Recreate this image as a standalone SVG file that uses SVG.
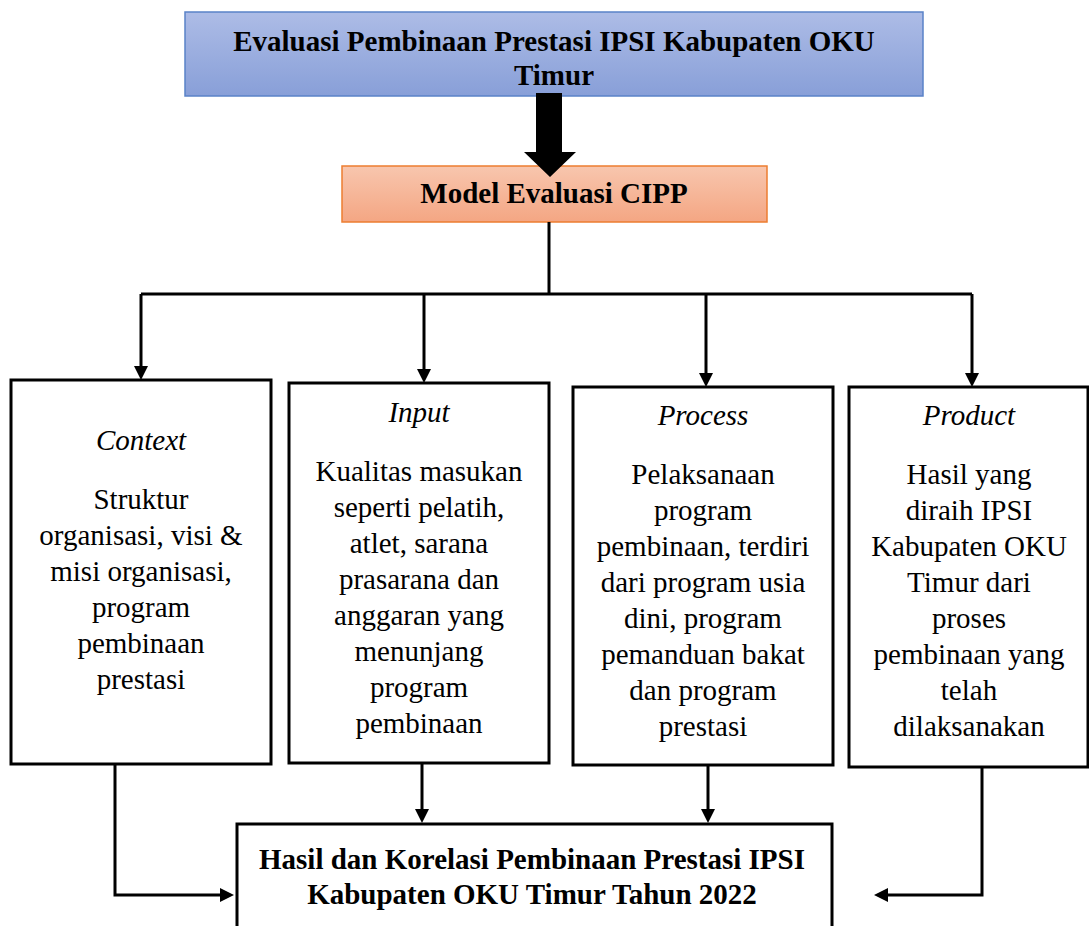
<svg xmlns="http://www.w3.org/2000/svg" width="1089" height="926" viewBox="0 0 1089 926">
<defs>
<linearGradient id="gBlue" x1="0" y1="0" x2="0" y2="1">
<stop offset="0" stop-color="#adbce6"/>
<stop offset="1" stop-color="#889fd8"/>
</linearGradient>
<linearGradient id="gOrange" x1="0" y1="0" x2="0" y2="1">
<stop offset="0" stop-color="#f8c6ae"/>
<stop offset="1" stop-color="#f4a683"/>
</linearGradient>
<marker id="arr" markerUnits="userSpaceOnUse" markerWidth="15" markerHeight="14" refX="4" refY="7" orient="auto">
<path d="M0,0 L14,7 L0,14 z" fill="#000"/>
</marker>
<style>
.box{fill:#fff;stroke:#000;stroke-width:3}
.t{font-family:"Liberation Serif","Times New Roman",serif;font-size:29px;fill:#000;text-anchor:middle}
.b{font-weight:bold}
.i{font-style:italic}
.c{fill:none;stroke:#000;stroke-width:3}
</style>
</defs>
<rect width="1089" height="926" fill="#fff"/>
<g id="title">
<rect x="185" y="12" width="738" height="84" fill="url(#gBlue)" stroke="#5a82c8" stroke-width="1.5"/>
<text class="t b" x="554" y="51">Evaluasi Pembinaan Prestasi IPSI Kabupaten OKU</text>
<text class="t b" x="554" y="85">Timur</text>
</g>
<g id="model">
<rect x="342" y="166" width="425" height="56" fill="url(#gOrange)" stroke="#ed7d31" stroke-width="1.5"/>
<text class="t b" x="554" y="203">Model Evaluasi CIPP</text>
</g>
<g id="context">
<rect class="box" x="11" y="380" width="260" height="384"/>
<text class="t" x="141"><tspan class="i" x="141" y="450">Context</tspan><tspan x="141" y="509">Struktur</tspan><tspan x="141" y="545">organisasi, visi &amp;</tspan><tspan x="141" y="581">misi organisasi,</tspan><tspan x="141" y="617">program</tspan><tspan x="141" y="653">pembinaan</tspan><tspan x="141" y="689">prestasi</tspan></text>
</g>
<g id="input">
<rect class="box" x="289" y="383" width="260" height="380"/>
<text class="t" x="419"><tspan class="i" x="419" y="422">Input</tspan><tspan x="419" y="481">Kualitas masukan</tspan><tspan x="419" y="517">seperti pelatih,</tspan><tspan x="419" y="553">atlet, sarana</tspan><tspan x="419" y="589">prasarana dan</tspan><tspan x="419" y="625">anggaran yang</tspan><tspan x="419" y="661">menunjang</tspan><tspan x="419" y="697">program</tspan><tspan x="419" y="733">pembinaan</tspan></text>
</g>
<g id="process">
<rect class="box" x="573" y="387" width="260" height="378"/>
<text class="t" x="703"><tspan class="i" x="703" y="425">Process</tspan><tspan x="703" y="484">Pelaksanaan</tspan><tspan x="703" y="520">program</tspan><tspan x="703" y="556">pembinaan, terdiri</tspan><tspan x="703" y="592">dari program usia</tspan><tspan x="703" y="628">dini, program</tspan><tspan x="703" y="664">pemanduan bakat</tspan><tspan x="703" y="700">dan program</tspan><tspan x="703" y="736">prestasi</tspan></text>
</g>
<g id="product">
<rect class="box" x="849" y="387" width="239" height="380"/>
<text class="t" x="969"><tspan class="i" x="969" y="425">Product</tspan><tspan x="969" y="484">Hasil yang</tspan><tspan x="969" y="520">diraih IPSI</tspan><tspan x="969" y="556">Kabupaten OKU</tspan><tspan x="969" y="592">Timur dari</tspan><tspan x="969" y="628">proses</tspan><tspan x="969" y="664">pembinaan yang</tspan><tspan x="969" y="700">telah</tspan><tspan x="969" y="736">dilaksanakan</tspan></text>
</g>
<g id="result">
<rect class="box" x="237" y="824" width="595" height="120"/>
<text class="t b" x="532"><tspan x="532" y="869">Hasil dan Korelasi Pembinaan Prestasi IPSI</tspan><tspan x="532" y="904">Kabupaten OKU Timur Tahun 2022</tspan></text>
</g>
<g id="connectors">
<polygon points="536,93 562,93 562,152 576,152 550,177 524,152 536,152" fill="#000"/>
<path class="c" d="M549,222 V294"/>
<path class="c" d="M141,294 H972"/>
<path class="c" d="M141,294 V370" marker-end="url(#arr)"/>
<path class="c" d="M424,294 V373" marker-end="url(#arr)"/>
<path class="c" d="M706,294 V377" marker-end="url(#arr)"/>
<path class="c" d="M972,294 V377" marker-end="url(#arr)"/>
<path class="c" d="M422,763 V813" marker-end="url(#arr)"/>
<path class="c" d="M708,765 V813" marker-end="url(#arr)"/>
<path class="c" d="M115,764 V895 H224" marker-end="url(#arr)"/>
<path class="c" d="M982,767 V895 H884" marker-end="url(#arr)"/>
</g>
</svg>
